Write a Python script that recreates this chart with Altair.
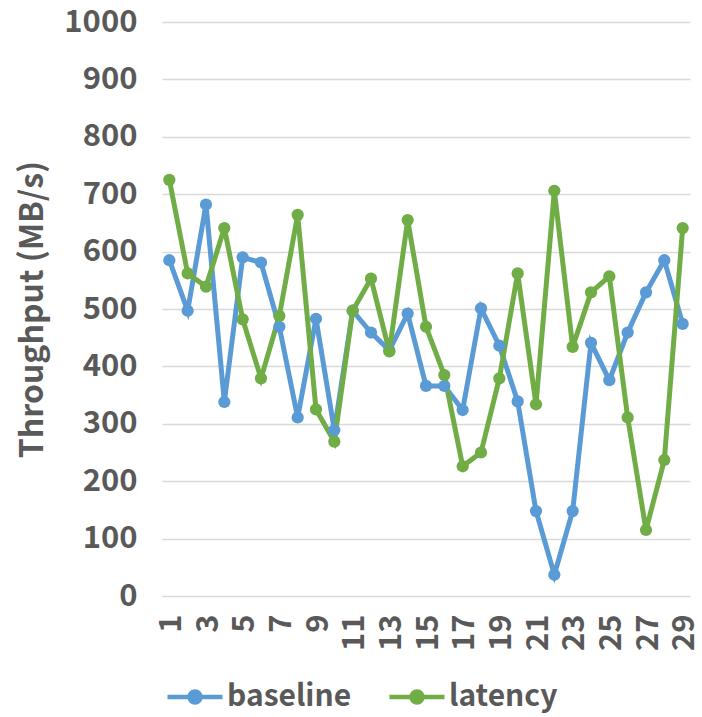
import altair as alt
import pandas as pd

runs = list(range(1, 30))
baseline = [585, 497, 682, 338, 590, 581, 469, 311, 483, 289,
            497, 459, 428, 492, 366, 366, 324, 501, 436, 339,
            148, 37, 148, 441, 376, 459, 529, 585, 474]
latency = [725, 562, 539, 641, 482, 379, 488, 664, 325, 269,
           497, 553, 426, 655, 469, 385, 226, 250, 379, 562,
           334, 706, 434, 529, 557, 311, 115, 237, 641]
series_names = ["baseline", "latency"]
colors = ["#5B9BD5", "#70AD47"]
x_tick_values = [r for r in runs if r % 2 == 1]
y_tick_values = list(range(0, 1001, 100))

df = pd.DataFrame({
    "run": runs + runs,
    "value": baseline + latency,
    "series": [series_names[0]] * len(runs) + [series_names[1]] * len(runs),
})

gray = "#595959"
font = "Noto Sans CJK SC"
weight = "bold"

chart = alt.Chart(df).mark_line(
    strokeWidth=5,
    point=alt.OverlayMarkDef(filled=True, size=150),
).encode(
    x=alt.X("run:O", title=None,
            scale=alt.Scale(padding=0.4),
            axis=alt.Axis(values=x_tick_values, labelAngle=-90, labelFontSize=31,
                          labelFont=font, labelColor=gray, labelFontWeight=weight,
                          labelPadding=18, labelOffset=2, domain=False, ticks=False,
                          grid=False)),
    y=alt.Y("value:Q", title="Throughput (MB/s)",
            scale=alt.Scale(domain=[0, 1000], nice=False),
            axis=alt.Axis(values=y_tick_values, format="d", labelFontSize=31,
                          labelFont=font, labelColor=gray, labelFontWeight=weight,
                          labelPadding=25, domain=False, ticks=False, grid=True,
                          gridColor="#D9D9D9", gridWidth=1.5, titleFontSize=32,
                          titleFont=font, titleColor=gray, titleFontWeight=weight,
                          titlePadding=14)),
    color=alt.Color("series:N", title=None,
                    scale=alt.Scale(domain=series_names, range=colors),
                    legend=alt.Legend(orient="none", legendX=3, legendY=645,
                                      direction="horizontal",
                                      symbolType="M-1,0L1,0M0.2,0A0.2,0.2 0 1,1 -0.2,0A0.2,0.2 0 1,1 0.2,0",
                                      symbolSize=3025, symbolStrokeWidth=4.5,
                                      labelFontSize=30, labelFont=font, labelColor=gray,
                                      labelFontWeight=weight,
                                      labelOffset=2, columnPadding=28)),
).properties(
    width=528, height=574,
    autosize=alt.AutoSizeParams(type="none"),
    padding={"left": 162, "top": 22, "right": 12, "bottom": 121},
).configure_view(stroke=None)

chart.save("out.html", embed_options={"renderer": "svg", "actions": False})
